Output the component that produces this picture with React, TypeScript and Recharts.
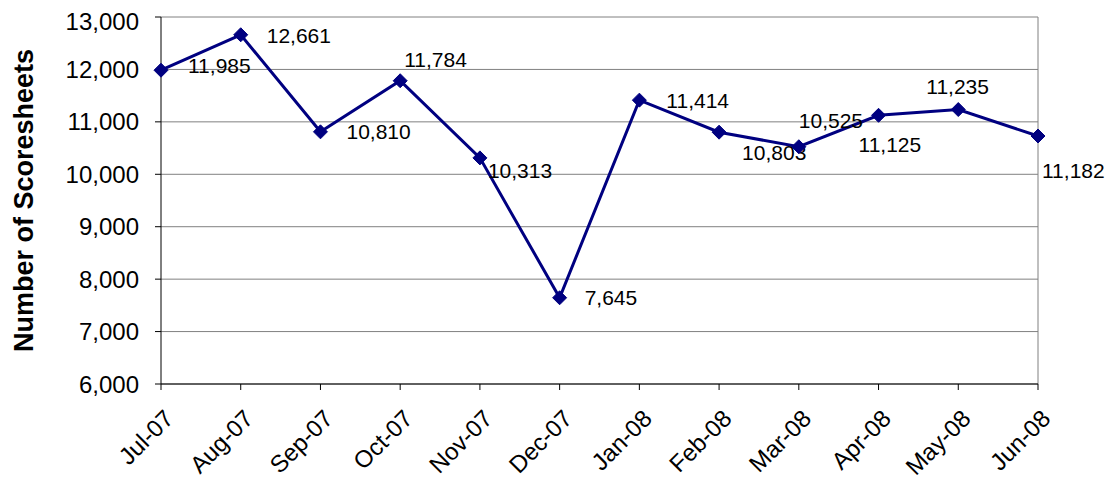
import React from 'react';
import { LineChart, Line, XAxis, YAxis, CartesianGrid, ReferenceLine } from 'recharts';

const months = ['Jul-07', 'Aug-07', 'Sep-07', 'Oct-07', 'Nov-07', 'Dec-07', 'Jan-08', 'Feb-08', 'Mar-08', 'Apr-08', 'May-08', 'Jun-08'];
const scoresheets = [11985, 12661, 10810, 11784, 10313, 7645, 11414, 10803, 10525, 11125, 11235, 10730];
const valueLabels = ['11,985', '12,661', '10,810', '11,784', '10,313', '7,645', '11,414', '10,803', '10,525', '11,125', '11,235', '11,182'];
const yTicks = [6000, 7000, 8000, 9000, 10000, 11000, 12000, 13000];

// label placement (style only): offset of label's left edge / vertical centre from its point
const labelOffsets: [number, number][] = [
  [27, -5], [26, 1], [26, 0], [4, -21], [8, 13], [25, 0],
  [27, 0], [23, 20], [0, -26], [-20, 29.5], [-32, -23.5], [4, 34.5],
];

const data = months.map((m, i) => ({ month: m, value: scoresheets[i], label: valueLabels[i] }));

const FONT = '"Liberation Sans", Arial, sans-serif';
const NAVY = '#000080';

const Dot = (props: any) => {
  const { cx, cy, index } = props;
  if (cx == null || cy == null) return null;
  const r = 7;
  const [dx, dy] = labelOffsets[index] || [0, 0];
  return (
    <g key={`dot-${index}`}>
      <polygon points={`${cx},${cy - r} ${cx + r},${cy} ${cx},${cy + r} ${cx - r},${cy}`} fill={NAVY} stroke={NAVY} />
      <text x={cx + dx} y={cy + dy + 7.5} fontSize={21} fontFamily={FONT} fill="#000" textAnchor="start">
        {valueLabels[index]}
      </text>
    </g>
  );
};

const XTick = (props: any) => {
  const { x, y, payload } = props;
  return (
    <g transform={`translate(${x + 14},${y + 28})`}>
      <text x={0} y={0} textAnchor="end" transform="rotate(-45)" fontSize={24} fontFamily={FONT} fill="#000">
        {payload.value}
      </text>
    </g>
  );
};

export default function App() {
  return (
    <div style={{ width: 1100, height: 473, background: '#fff' }}>
      <LineChart width={1100} height={473} data={data} margin={{ top: 9, right: 70, left: 0, bottom: 0 }}>
        <CartesianGrid vertical={false} stroke="#808080" strokeWidth={1} />
        <XAxis
          dataKey="month"
          height={97}
          stroke="#000"
          tickLine={{ stroke: '#000' }}
          tickSize={6}
          interval={0}
          tick={<XTick />}
        />
        <YAxis
          width={153}
          domain={[6000, 13000]}
          ticks={yTicks}
          stroke="#000"
          tickSize={6}
          tickMargin={16}
          tickFormatter={(v: number) => v.toLocaleString('en-US')}
          tick={{ fontSize: 24, fontFamily: FONT, fill: '#000' }}
          label={{
            value: 'Number of Scoresheets',
            angle: -90,
            position: 'insideLeft',
            offset: 15,
            style: { textAnchor: 'middle', fontSize: 27, fontWeight: 'bold', fontFamily: FONT, fill: '#000' },
          }}
        />
        <ReferenceLine x="Jun-08" stroke="#808080" />
        <Line
          type="linear"
          dataKey="value"
          stroke={NAVY}
          strokeWidth={3}
          dot={<Dot />}
          activeDot={false}
          isAnimationActive={false}
        />
      </LineChart>
    </div>
  );
}
